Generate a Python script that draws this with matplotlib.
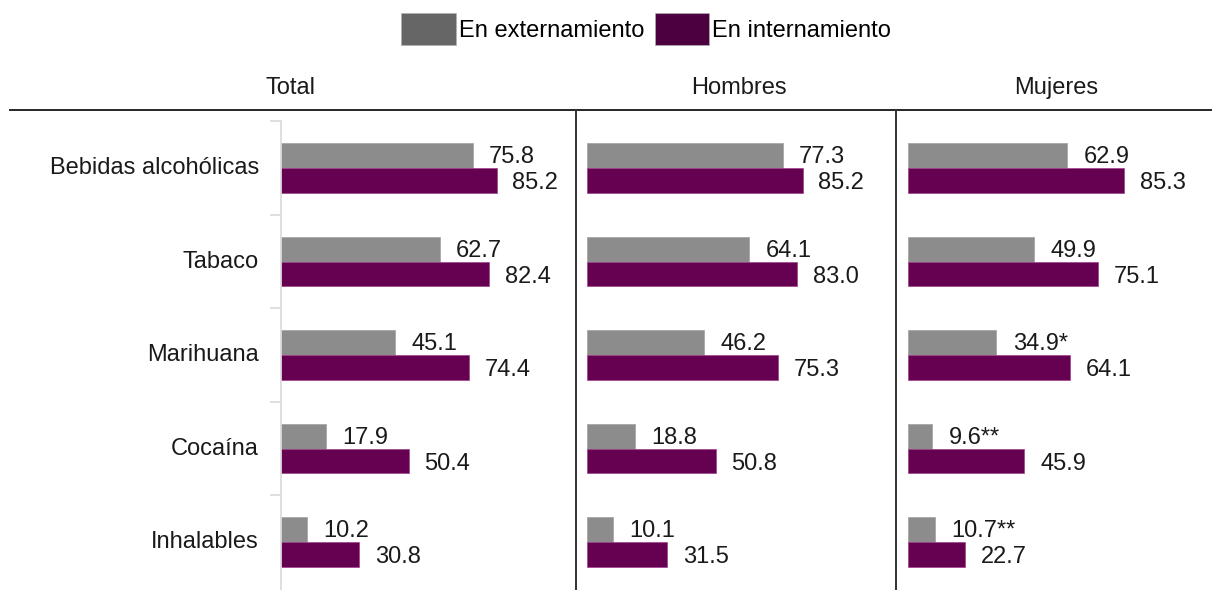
import matplotlib
matplotlib.use("Agg")
import matplotlib.pyplot as plt
from matplotlib.patches import Patch
from matplotlib.lines import Line2D

plt.rcParams['font.family'] = ['Liberation Sans', 'DejaVu Sans']

categories = ["Bebidas alcohólicas", "Tabaco", "Marihuana", "Cocaína", "Inhalables"]
panels = ["Total", "Hombres", "Mujeres"]
externo = {
    "Total": [75.8, 62.7, 45.1, 17.9, 10.2],
    "Hombres": [77.3, 64.1, 46.2, 18.8, 10.1],
    "Mujeres": [62.9, 49.9, 34.9, 9.6, 10.7],
}
interno = {
    "Total": [85.2, 82.4, 74.4, 50.4, 30.8],
    "Hombres": [85.2, 83.0, 75.3, 50.8, 31.5],
    "Mujeres": [85.3, 75.1, 64.1, 45.9, 22.7],
}
externo_marks = {
    "Total": ["", "", "", "", ""],
    "Hombres": ["", "", "", "", ""],
    "Mujeres": ["", "", "*", "**", "**"],
}
series_names = ["En externamiento", "En internamiento"]

GREY = "#8c8c8c"
PURPLE = "#660050"
TEXT = "#1a1a1a"
FS = 17

W, H = 1212, 590
fig = plt.figure(figsize=(W / 100, H / 100), dpi=100)

def px_axes(x0, y0, x1, y1):
    return fig.add_axes([x0 / W, 1 - y1 / H, (x1 - x0) / W, (y1 - y0) / H])

scale = 2.53  # px per unit
panel_px = [(281, 576), (587, 896), (908, 1212)]
top, bottom = 121, 590
row = 93.5
y_top = -(168 - top) / row
y_bot = y_top + (bottom - top) / row
bh = 0.265

for i, (p, (x0, x1)) in enumerate(zip(panels, panel_px)):
    ax = px_axes(x0, top, x1, bottom)
    ax.set_xlim(0, (x1 - x0) / scale)
    ax.set_ylim(y_bot, y_top)
    pos = list(range(len(categories)))
    ax.barh([y - bh / 2 for y in pos], externo[p], height=bh, color=GREY,
            edgecolor="#a0a0a0", linewidth=0.5)
    ax.barh([y + bh / 2 for y in pos], interno[p], height=bh, color=PURPLE,
            edgecolor="#a0408c", linewidth=0.5)
    for y, v, m in zip(pos, externo[p], externo_marks[p]):
        ax.text(v + 6.5, y - bh / 2 + 0.02, f"{v:.1f}{m}", va="center", ha="left",
                fontsize=FS, color=TEXT)
    for y, v in zip(pos, interno[p]):
        ax.text(v + 6.3, y + bh / 2 + 0.03, f"{v:.1f}", va="center", ha="left",
                fontsize=FS, color=TEXT)
    for s in ["top", "right", "bottom"]:
        ax.spines[s].set_visible(False)
    ax.set_xticks([])
    if i == 0:
        ax.spines["left"].set_color("#d9d9d9")
        ax.spines["left"].set_linewidth(1.2)
        ax.set_yticks([y - 0.5 for y in pos[1:]] + [y_top], minor=False)
        ax.set_yticklabels([])
        ax.tick_params(axis="y", length=8, color="#d9d9d9", width=1.2)
        for y, c in zip(pos, categories):
            ax.text(-8.7, y, c, ha="right", va="center", fontsize=FS, color=TEXT)
    else:
        ax.spines["left"].set_visible(False)
        ax.set_yticks([])
    ax.set_facecolor("none")

# header titles
title_x = [291, 739, 1056]
for t, x in zip(panels, title_x):
    fig.text(x / W, 1 - 88 / H, t, ha="center", va="center", fontsize=FS, color=TEXT)

# header line and dividers
fig.add_artist(Line2D([10 / W, 1.0], [1 - 110 / H, 1 - 110 / H], color="#262626", lw=1.4))
for x in [576, 896]:
    fig.add_artist(Line2D([x / W, x / W], [1 - 110 / H, 0], color="#333333", lw=1.4))

handles = [Patch(facecolor="#666666", edgecolor="#b0b0b0", linewidth=0.5),
           Patch(facecolor="#4d0040", edgecolor="#b0b0b0", linewidth=0.5)]
fig.legend(handles, series_names, loc="center", bbox_to_anchor=(646 / W, 1 - 29 / H),
           ncol=2, frameon=False, fontsize=FS, handlelength=2.3, handleheight=1.75,
           handletextpad=0.12, columnspacing=0.45)

fig.savefig("out.png", dpi=100)
